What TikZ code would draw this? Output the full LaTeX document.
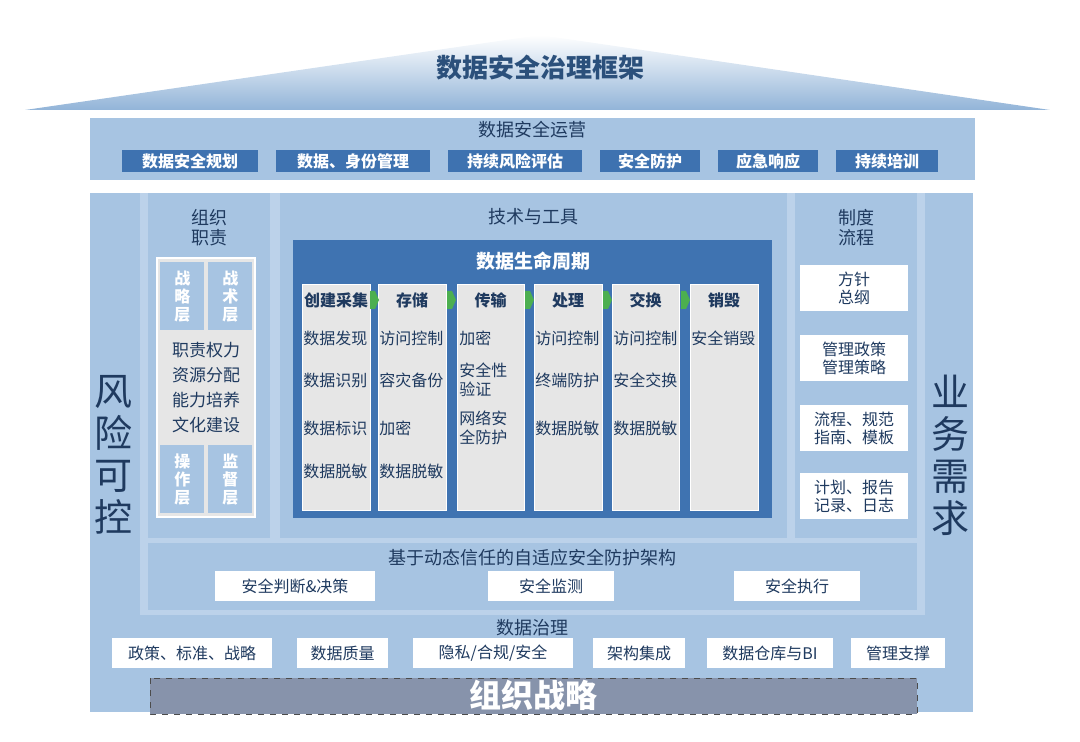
\documentclass[tikz,border=0pt]{standalone}
\usepackage{fontspec}
\setmainfont{Noto Sans CJK SC}
\usetikzlibrary{positioning}
\definecolor{bgblue}{HTML}{A7C4E2}
\definecolor{paleblue}{HTML}{BCD2EA}
\definecolor{tagblue}{HTML}{3E72B0}
\definecolor{darktxt}{HTML}{1F3A5F}
\definecolor{lifeblue}{HTML}{3F73B1}
\definecolor{colgray}{HTML}{E6E6E6}
\definecolor{arrowgreen}{HTML}{4CAF50}
\definecolor{stratgray}{HTML}{8793AB}
\tikzset{
  tag/.style={fill=tagblue,text=white,font=\fontsize{8}{9}\selectfont\bfseries,minimum height=11pt,inner sep=1pt},
  wbox/.style={fill=white,text=darktxt,font=\fontsize{8}{9}\selectfont,inner sep=1pt,align=center},
  ttl/.style={text=darktxt,font=\fontsize{9}{10}\selectfont,align=center},
  col/.style={fill=colgray,draw=white,line width=.5pt},
  item/.style={text=darktxt,font=\fontsize{8}{9.5}\selectfont,align=left,inner sep=0pt},
  big/.style={text=darktxt,font=\fontsize{19}{21}\selectfont,align=center},
}
\begin{document}
\begin{tikzpicture}[x=0.5pt,y=-0.5pt]
\useasboundingbox (0,0) rectangle (1080,742);
% roof
\shade[top color=white,bottom color=bgblue!80!tagblue] (25,110) -- (540,35) -- (1050,110) -- cycle;
\node[text=tagblue!70!black,font=\fontsize{13}{14}\selectfont\bfseries] (roof) at (540,68) {数据安全治理框架};
% operations band
\fill[bgblue] (90,118) rectangle (975,180);
\node[ttl] (ops) at (532,130) {数据安全运营};
\node[tag,minimum width=68pt] (o1) at (190,161) {数据安全规划};
\node[tag,minimum width=77pt] (o2) at (353,161) {数据、身份管理};
\node[tag,minimum width=67pt] (o3) at (515,161) {持续风险评估};
\node[tag,minimum width=50pt] (o4) at (650,161) {安全防护};
\node[tag,minimum width=50pt] (o5) at (768,161) {应急响应};
\node[tag,minimum width=51pt] (o6) at (887,161) {持续培训};
% pillars and middle
\fill[paleblue] (140,193) rectangle (925,712);
\fill[bgblue] (90,193) rectangle (140,712);
\fill[bgblue] (925,193) rectangle (973,712);
\node[big] (risk) at (113,455) {风\\险\\可\\控};
\node[big] (biz) at (950,455) {业\\务\\需\\求};
% organisation
\fill[bgblue] (148,193) rectangle (270,538);
\node[ttl] (org) at (209,228) {组织\\职责};
\draw[white,line width=1.2pt,fill=colgray] (157,258) rectangle (255,517);
\foreach \x/\y/\t [count=\i] in {160/262/战\\略\\层,208/262/战\\术\\层,160/445/操\\作\\层,208/445/监\\督\\层}
  \node[fill=bgblue,text=white,font=\fontsize{8}{9}\selectfont\bfseries,align=center,minimum width=22pt,minimum height=34pt,inner sep=0pt,anchor=north west] (lvl\i) at (\x,\y) {\t};
\node[text=darktxt,font=\fontsize{8.5}{12.5}\selectfont,align=center] (duty) at (206,388) {职责权力\\资源分配\\能力培养\\文化建设};
% tech and tools
\fill[bgblue] (280,193) rectangle (787,538);
\node[ttl] (tech) at (533,217) {技术与工具};
\fill[lifeblue] (293,240) rectangle (772,518);
\node[text=white,font=\fontsize{9.5}{10}\selectfont\bfseries] (life) at (533,261) {数据生命周期};
\foreach \a/\b/\h [count=\i] in {302/370/创建采集,378/446/存储,457/524/传输,534/602/处理,612/679/交换,690/758/销毁}{
  \draw[col] (\a,285) rectangle (\b,510);
  \node[text=darktxt,font=\fontsize{8}{9}\selectfont\bfseries] (h\i) at ({(\a+\b)/2},300) {\h};
}
\foreach \x in {374,451,529,607,685}
  \fill[arrowgreen] (\x-4,291) -- (\x+1,291) -- (\x+5,300) -- (\x+1,309) -- (\x-4,309) -- cycle;
\foreach \t/\y in {数据发现/338,数据识别/380,数据标识/428,数据脱敏/471} \node[item,anchor=west] at (303,\y) {\t};
\foreach \t/\y in {访问控制/338,容灾备份/380,加密/428,数据脱敏/471} \node[item,anchor=west] at (379,\y) {\t};
\node[item,anchor=west] (t1) at (459,338) {加密};
\node[item,anchor=north west] (t2) at (459,362) {安全性\\验证};
\node[item,anchor=north west] (t3) at (459,410) {网络安\\全防护};
\foreach \t/\y in {访问控制/338,终端防护/380,数据脱敏/428} \node[item,anchor=west] at (535,\y) {\t};
\foreach \t/\y in {访问控制/338,安全交换/380,数据脱敏/428} \node[item,anchor=west] at (613,\y) {\t};
\node[item,anchor=west] (d1) at (691,338) {安全销毁};
% rules
\fill[bgblue] (795,193) rectangle (917,538);
\node[ttl] (rule) at (856,228) {制度\\流程};
\foreach \y/\t [count=\i] in {265/方针\\总纲,335/管理政策\\管理策略,405/流程、规范\\指南、模板,473/计划、报告\\记录、日志}
  \node[wbox,minimum width=54pt,minimum height=23pt,anchor=north] (r\i) at (854,\y) {\t};
% adaptive
\fill[bgblue] (148,543) rectangle (917,610);
\node[ttl] (adapt) at (532,558) {基于动态信任的自适应安全防护架构};
\node[wbox,minimum width=80pt,minimum height=15pt] (a1) at (295,586) {安全判断\&决策};
\node[wbox,minimum width=63pt,minimum height=15pt] (a2) at (551,586) {安全监测};
\node[wbox,minimum width=63pt,minimum height=15pt] (a3) at (797,586) {安全执行};
% governance
\fill[bgblue] (140,615) rectangle (925,712);
\node[ttl] (gov) at (532,628) {数据治理};
\foreach \a/\b/\t [count=\i] in {112/272/政策、标准、战略,297/388/数据质量,413/573/{隐私/合规/安全},593/685/架构集成,707/833/数据仓库与BI,851/945/管理支撑}
  \node[wbox,minimum width={(\b-\a)/2*1pt},minimum height=15pt] (g\i) at ({(\a+\b)/2},653) {\t};
% strategy
\draw[fill=stratgray,draw=black!70,dashed] (150,678) rectangle (917,714);
\node[text=white,font=\fontsize{16}{17}\selectfont\bfseries] (strat) at (533,695) {组织战略};
\end{tikzpicture}
\end{document}
